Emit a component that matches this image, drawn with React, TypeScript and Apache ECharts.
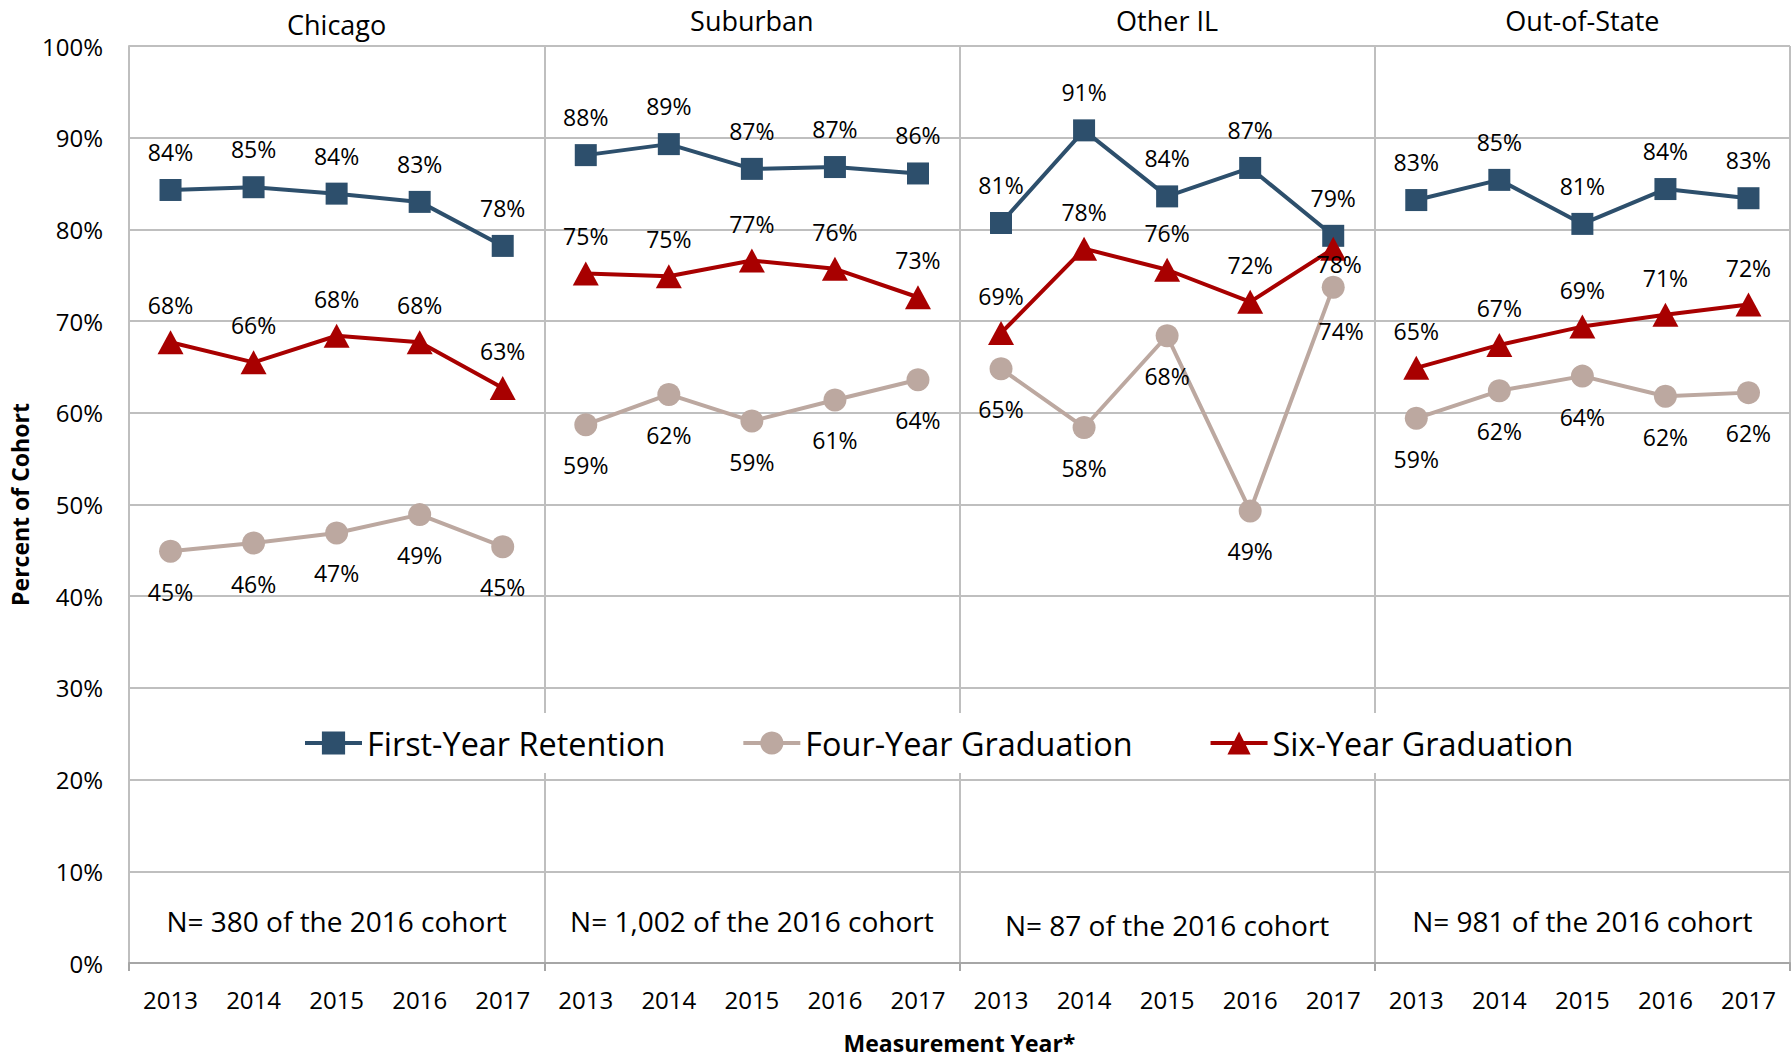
import React, { useEffect, useRef } from "react";
import * as echarts from "echarts";

const years = ["2013", "2014", "2015", "2016", "2017"];
const regions = ["Chicago", "Suburban", "Other IL", "Out-of-State"];
const cohortNotes = [
  "N= 380 of the 2016 cohort",
  "N= 1,002 of the 2016 cohort",
  "N= 87 of the 2016 cohort",
  "N= 981 of the 2016 cohort",
];
const seriesNames = ["First-Year Retention", "Four-Year Graduation", "Six-Year Graduation"];

// values per region (Chicago, Suburban, Other IL, Out-of-State), per year 2013..2017
const firstYearRetention = [
  [84.3, 84.6, 83.9, 83.0, 78.2],
  [88.1, 89.3, 86.6, 86.8, 86.1],
  [80.7, 90.8, 83.6, 86.7, 79.3],
  [83.2, 85.4, 80.6, 84.4, 83.4],
];
const fourYearGraduation = [
  [44.9, 45.8, 46.9, 48.9, 45.4],
  [58.7, 62.0, 59.1, 61.4, 63.6],
  [64.8, 58.4, 68.4, 49.3, 73.7],
  [59.4, 62.4, 64.0, 61.8, 62.2],
];
const sixYearGraduation = [
  [67.7, 65.5, 68.4, 67.7, 62.7],
  [75.2, 74.9, 76.6, 75.7, 72.6],
  [68.7, 77.9, 75.6, 72.1, 77.9],
  [64.9, 67.4, 69.4, 70.7, 71.8],
];

const FONT = "Open Sans";
const GRID_LEFT = 129;
const GRID_RIGHT_EDGE = 1790;
const GRID_TOP = 46;
const GRID_BOTTOM_EDGE = 967;

export default function App() {
  const ref = useRef<HTMLDivElement>(null);

  useEffect(() => {
    if (!ref.current) return;
    const chart = echarts.init(ref.current, undefined, { renderer: "svg" });

    const categories: string[] = [];
    regions.forEach(() => years.forEach((y) => categories.push(y)));
    const perPanel = years.length;
    const panelBoundary = (index: number) => index % perPanel === 0;

    const metricDefs = [
      {
        name: seriesNames[0],
        values: firstYearRetention,
        color: "#2D4F6C",
        symbol: "rect",
        symbolSize: 22,
        labelPos: "top",
        labelDist: 15,
      },
      {
        name: seriesNames[1],
        values: fourYearGraduation,
        color: "#BCA8A0",
        symbol: "circle",
        symbolSize: 23,
        labelPos: "bottom",
        labelDist: 17,
      },
      {
        name: seriesNames[2],
        values: sixYearGraduation,
        color: "#A80000",
        symbol: "triangle",
        symbolSize: [26, 24],
        labelPos: "top",
        labelDist: 13,
      },
    ];

    const series: any[] = [];
    metricDefs.forEach((m, mi) => {
      regions.forEach((_, ri) => {
        const data: any[] = categories.map(() => "-");
        m.values[ri].forEach((v, yi) => {
          let item: any = v;
          // Special label placements (overlapping points in Other IL, 2017)
          if (ri === 2 && yi === 4 && mi === 2) {
            item = { value: v, label: { position: "inside", offset: [6, 15] } };
          }
          if (ri === 2 && yi === 4 && mi === 1) {
            item = { value: v, label: { offset: [8, 3] } };
          }
          data[ri * perPanel + yi] = item;
        });
        series.push({
          type: "line",
          name: m.name,
          data,
          connectNulls: false,
          symbol: m.symbol,
          symbolSize: m.symbolSize,
          showAllSymbol: true,
          z: 2 + mi,
          lineStyle: { color: m.color, width: 4 },
          itemStyle: { color: m.color },
          label: {
            show: true,
            position: m.labelPos,
            distance: m.labelDist,
            color: "#000",
            fontFamily: FONT,
            fontSize: 23,
            lineHeight: 24,
            formatter: (p: any) => Math.round(p.value) + "%",
          },
        });
      });
    });

    const panelWidth = (GRID_RIGHT_EDGE - GRID_LEFT) / regions.length;
    const titleY = [24, 20, 20, 20];
    const noteY = [921, 921, 925, 921];
    const graphics: any[] = [];
    regions.forEach((r, i) => {
      const cx = GRID_LEFT + panelWidth * (i + 0.5);
      graphics.push({
        type: "text",
        x: cx,
        y: titleY[i],
        z: 10,
        style: {
          text: r,
          fill: "#000",
          font: `27px "${FONT}"`,
          textAlign: "center",
          textVerticalAlign: "middle",
        },
      });
      graphics.push({
        type: "text",
        x: cx,
        y: noteY[i],
        z: 10,
        style: {
          text: cohortNotes[i],
          fill: "#000",
          font: `28px "${FONT}"`,
          textAlign: "center",
          textVerticalAlign: "middle",
        },
      });
    });

    chart.setOption({
      animation: false,
      backgroundColor: "#fff",
      textStyle: { fontFamily: FONT },
      grid: {
        left: GRID_LEFT,
        right: 1792 - GRID_RIGHT_EDGE,
        top: GRID_TOP,
        bottom: 1059 - GRID_BOTTOM_EDGE,
        containLabel: false,
      },
      legend: {
        data: seriesNames,
        left: 298,
        top: 713,
        orient: "horizontal",
        backgroundColor: "#fff",
        padding: [11, 5],
        itemGap: 76,
        itemWidth: 57,
        itemHeight: 29,
        lineStyle: { width: 4 },
        textStyle: { fontFamily: FONT, fontSize: 32.4, color: "#000", lineHeight: 38 },
        z: 20,
      },
      xAxis: {
        type: "category",
        data: categories,
        boundaryGap: true,
        name: "Measurement Year*",
        nameLocation: "middle",
        nameGap: 68,
        nameTextStyle: { fontFamily: FONT, fontSize: 23, fontWeight: "bold", color: "#000" },
        axisLine: { show: true, lineStyle: { color: "#a6a6a6", width: 2 } },
        axisTick: { show: true, interval: panelBoundary, length: 8, lineStyle: { color: "#a6a6a6", width: 2 } },
        axisLabel: { interval: 0, fontFamily: FONT, fontSize: 24, color: "#000", margin: 24 },
        splitLine: { show: true, interval: panelBoundary, lineStyle: { color: "#bfbfbf", width: 2 } },
      },
      yAxis: {
        type: "value",
        min: 0,
        max: 100,
        interval: 10,
        name: "Percent of Cohort",
        nameLocation: "middle",
        nameGap: 94,
        nameRotate: 90,
        nameTextStyle: { fontFamily: FONT, fontSize: 23, fontWeight: "bold", color: "#000" },
        axisLine: { show: true, lineStyle: { color: "#bfbfbf", width: 2 } },
        axisTick: { show: false },
        axisLabel: { fontFamily: FONT, fontSize: 24, color: "#000", margin: 26, formatter: "{value}%" },
        splitLine: { show: true, lineStyle: { color: "#bfbfbf", width: 2 } },
      },
      graphic: graphics,
      series,
    });

    return () => chart.dispose();
  }, []);

  return (
    <div
      ref={ref}
      style={{ position: "fixed", left: 0, top: 0, width: 1792, height: 1059 }}
    />
  );
}
